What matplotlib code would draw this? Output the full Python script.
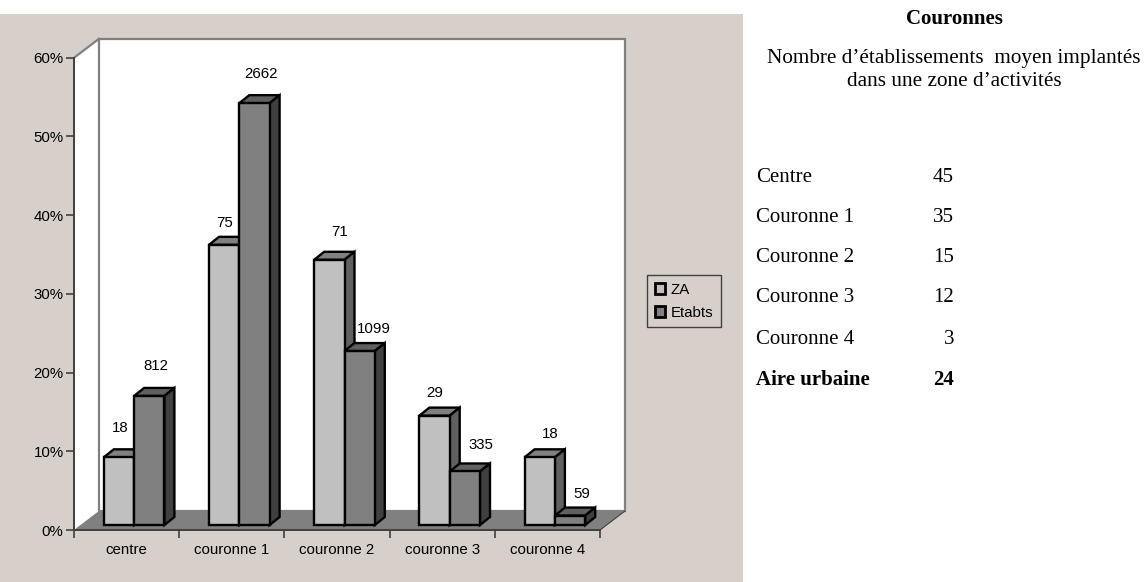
"""Bar chart with fake 3D look plus the side table on zones d'activites."""

import matplotlib
matplotlib.use("Agg")
import matplotlib.pyplot as plt
from matplotlib.patches import Patch, Polygon, Rectangle

W, H = 1144, 582

categories = ["centre", "couronne 1", "couronne 2", "couronne 3", "couronne 4"]
za_share = [8.6, 35.6, 33.7, 13.9, 8.6]
etab_share = [16.4, 53.6, 22.1, 6.8, 1.2]
za_labels = ["18", "75", "71", "29", "18"]
etab_labels = ["812", "2662", "1099", "335", "59"]
y_ticks = [0, 10, 20, 30, 40, 50, 60]

table_names = ["Centre", "Couronne 1", "Couronne 2", "Couronne 3", "Couronne 4", "Aire urbaine"]
table_values = ["45", "35", "15", "12", "3", "24"]

PANEL = "#d7cfc9"
SERIF = "Liberation Serif"
SANS = "Liberation Sans"
SANS_SIZE = 10.8
SERIF_SIZE = 15
EDGE = 1.7

# pixel geometry
PX_CAT = 105.2
PX_PCT = 7.87
DEPTH_X = 25 / PX_CAT
DEPTH_Y = 19 / PX_PCT
BAR_W = 30.3 / PX_CAT
BAR_DX = 10 / PX_CAT
BAR_DY = 8 / PX_PCT
BASE_X = 7.5 / PX_CAT
BASE_Y = 5 / PX_PCT

# labels were placed by hand in the original, so offsets differ per bar
za_offset = [(1, 29), (0, 22), (10, 28), (0, 23), (10, 23)]
etab_offset = [(7, 30), (7, 29), (14, 22), (16, 26), (12, 22)]


def fx(px):
    return px / W


def fy(py):
    return 1 - py / H


def draw_bar(ax, x, h, front, top, side, label, offset):
    y0 = BASE_Y
    y1 = y0 + h
    ax.add_patch(Polygon([(x, y1), (x + BAR_W, y1), (x + BAR_W + BAR_DX, y1 + BAR_DY), (x + BAR_DX, y1 + BAR_DY)],
                         fc=top, ec="black", lw=EDGE, clip_on=False, zorder=4, joinstyle="miter"))
    ax.add_patch(Polygon([(x + BAR_W, y0), (x + BAR_W + BAR_DX, y0 + BAR_DY), (x + BAR_W + BAR_DX, y1 + BAR_DY), (x + BAR_W, y1)],
                         fc=side, ec="black", lw=EDGE, clip_on=False, zorder=4, joinstyle="miter"))
    ax.bar(x, h, BAR_W, bottom=y0, align="edge", color=front, edgecolor="black", lw=EDGE,
           clip_on=False, zorder=4)
    ax.annotate(label, (x + BAR_W / 2, y1), xytext=offset, textcoords="offset pixels",
                ha="center", va="center", fontsize=SANS_SIZE, family=SANS, color="black", zorder=5)


def main():
    fig = plt.figure(figsize=(W / 100, H / 100), dpi=100, facecolor="white")
    fig.add_artist(Rectangle((0, 0), fx(743), fy(14), transform=fig.transFigure,
                             fc=PANEL, ec="none", zorder=-5))

    ax = fig.add_axes([fx(74), fy(530), fx(526), (530 - 57.8) / H])
    ax.set_xlim(0, 5)
    ax.set_ylim(0, 60)
    ax.patch.set_visible(False)

    # walls and floor
    ax.add_patch(Polygon([(0, 0), (DEPTH_X, DEPTH_Y), (DEPTH_X, 60 + DEPTH_Y), (0, 60)],
                         fc="white", ec="none", clip_on=False, zorder=1))
    ax.add_patch(Polygon([(DEPTH_X, DEPTH_Y), (5 + DEPTH_X, DEPTH_Y), (5 + DEPTH_X, 60 + DEPTH_Y), (DEPTH_X, 60 + DEPTH_Y)],
                         fc="white", ec="#808080", lw=1.6, clip_on=False, zorder=1, joinstyle="miter"))
    ax.plot([0, DEPTH_X], [60, 60 + DEPTH_Y], color="#808080", lw=1.6, clip_on=False, zorder=2)
    ax.add_patch(Polygon([(0, 0), (5, 0), (5 + DEPTH_X, DEPTH_Y), (DEPTH_X, DEPTH_Y)],
                         fc="#808080", ec="none", clip_on=False, zorder=2))
    ax.plot([5, 5 + DEPTH_X], [0, DEPTH_Y], color="#404040", lw=0.8, clip_on=False, zorder=2)

    for i in range(len(categories)):
        x = i + 0.5 - BAR_W + BASE_X
        draw_bar(ax, x, za_share[i], "#c0c0c0", "#808080", "#606060", za_labels[i], za_offset[i])
        draw_bar(ax, x + BAR_W, etab_share[i], "#808080", "#606060", "#404040", etab_labels[i], etab_offset[i])

    for side in ["top", "right"]:
        ax.spines[side].set_visible(False)
    for side in ["left", "bottom"]:
        ax.spines[side].set_color("#404040")
        ax.spines[side].set_linewidth(1.4)
        ax.spines[side].set_zorder(3)

    ax.set_yticks(y_ticks)
    ax.set_yticklabels([f"{v}%" for v in y_ticks], fontsize=SANS_SIZE, family=SANS)
    ax.tick_params(axis="y", length=6, width=1.2, color="#404040", pad=1.5)
    ax.set_xticks(range(len(categories) + 1))
    ax.set_xticklabels([])
    ax.set_xticks([i + 0.5 for i in range(len(categories))], minor=True)
    ax.set_xticklabels(categories, minor=True, fontsize=SANS_SIZE, family=SANS)
    ax.tick_params(axis="x", which="major", length=6, width=1.2, color="#404040")
    ax.tick_params(axis="x", which="minor", length=0, pad=9.5)

    handles = [Patch(fc="#c0c0c0", ec="black", lw=2.0), Patch(fc="#808080", ec="black", lw=2.0)]
    fig.legend(handles, ["ZA", "Etabts"], loc="upper left", bbox_to_anchor=(fx(647), fy(275)),
               borderaxespad=0, prop={"family": SANS, "size": SANS_SIZE}, fancybox=False,
               edgecolor="#404040", facecolor="none", framealpha=1, handlelength=0.72, handleheight=0.72,
               handletextpad=0.35, labelspacing=0.62, borderpad=0.5)

    # right hand side text
    fig.text(fx(954), fy(19), "Couronnes", ha="center", va="center", family=SERIF,
             fontsize=SERIF_SIZE, fontweight="bold")
    fig.text(fx(954), fy(59), "Nombre d’établissements  moyen implantés", ha="center", va="center",
             family=SERIF, fontsize=15.3)
    fig.text(fx(954), fy(82), "dans une zone d’activités", ha="center", va="center", family=SERIF,
             fontsize=15.3)

    table_y = [178, 218, 258, 298, 339, 380]
    for name, val, py in zip(table_names, table_values, table_y):
        weight = "bold" if name == "Aire urbaine" else "normal"
        fig.text(fx(756), fy(py), name, ha="left", va="center", family=SERIF, fontsize=SERIF_SIZE, fontweight=weight)
        fig.text(fx(954), fy(py), val, ha="right", va="center", family=SERIF, fontsize=SERIF_SIZE, fontweight=weight)

    fig.savefig("out.png", dpi=100, facecolor=fig.get_facecolor())


if __name__ == "__main__":
    main()
